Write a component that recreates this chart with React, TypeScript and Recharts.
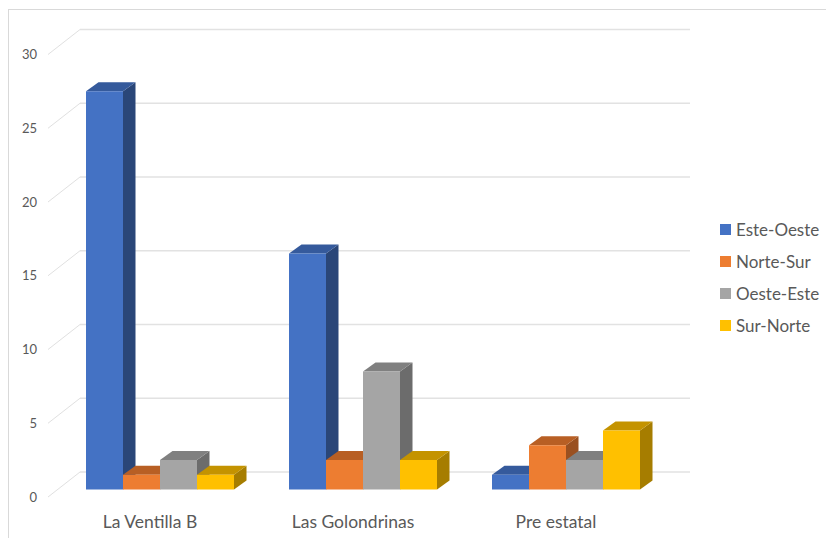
import { BarChart, Bar, XAxis, YAxis, CartesianGrid, Legend } from 'recharts';

const categories = ['La Ventilla B', 'Las Golondrinas', 'Pre estatal'];
const esteOeste = [27, 16, 1];
const norteSur = [1, 2, 3];
const oesteEste = [2, 8, 2];
const surNorte = [1, 2, 4];

const data = categories.map((name, i) => ({
  name,
  'Este-Oeste': esteOeste[i],
  'Norte-Sur': norteSur[i],
  'Oeste-Este': oesteEste[i],
  'Sur-Norte': surNorte[i],
}));

const series = [
  { key: 'Este-Oeste', fill: '#4472C4', top: '#355A9C', side: '#2A4678' },
  { key: 'Norte-Sur', fill: '#ED7D31', top: '#B85F24', side: '#9A5020' },
  { key: 'Oeste-Este', fill: '#A5A5A5', top: '#808080', side: '#6C6C6C' },
  { key: 'Sur-Norte', fill: '#FFC000', top: '#C49300', side: '#A67D00' },
];

const FONT = 'Lato, sans-serif';
const TEXT = '#595959';
const DX = 12.5;
const DY = 9;

const Box3D = ({ x, y, width, height, fill, top, side }: any) => {
  const r = x + width;
  const b = y + height;
  return (
    <g>
      <polygon points={`${r},${y} ${r + DX},${y - DY} ${r + DX},${b - DY} ${r},${b}`} fill={side} />
      <polygon points={`${x},${y} ${x + DX},${y - DY} ${r + DX},${y - DY} ${r},${y}`} fill={top} />
      <rect x={x} y={y} width={width} height={height} fill={fill} />
    </g>
  );
};

// floor runs back from the bar plane, so each grid line has a slanted part and a back part
const GridLine = ({ y1 }: any) => (
  <g key={y1}>
    <polyline points={`48,${y1 + 7.5} 80,${y1 - 17.5}`} fill="none" stroke="#e0e0e0" strokeWidth={1} />
    <line x1={80} y1={y1 - 17.5} x2={690} y2={y1 - 17.5} stroke="#e2e2e2" strokeWidth={1.4} />
  </g>
);

const YTick = ({ y, payload }: any) => (
  <text x={37} y={y + 7} textAnchor="end" dominantBaseline="central" fontFamily={FONT} fontSize={13} fill={TEXT}>
    {payload.value}
  </text>
);

const XTick = ({ x, y, payload }: any) => (
  <text x={x - 9.5} y={y + 24} textAnchor="middle" dominantBaseline="central" fontFamily={FONT} fontSize={17.5} fill={TEXT}>
    {payload.value}
  </text>
);

const LegendList = ({ payload }: any) => (
  <div>
    {payload.map((item: any) => (
      <div key={item.value} style={{ display: 'flex', alignItems: 'center', height: 32 }}>
        <div style={{ width: 11, height: 11, background: item.color, marginRight: 5 }} />
        <span style={{ fontFamily: FONT, fontSize: 17, color: TEXT, whiteSpace: 'nowrap' }}>{item.value}</span>
      </div>
    ))}
  </div>
);

export default function App() {
  return (
    <div style={{ position: 'absolute', left: 0, top: 0, width: 826, height: 538, overflow: 'hidden', background: '#fff' }}>
      <div style={{ position: 'absolute', left: 8, top: 9, width: 900, height: 600, border: '1px solid #d9d9d9' }} />
      <div style={{ position: 'absolute', left: 0, top: 0 }}>
        <BarChart
          width={826}
          height={538}
          data={data}
          margin={{ top: 47, right: 159, bottom: 8.5, left: 18 }}
          barCategoryGap={28}
          barGap={0}
        >
          <CartesianGrid vertical={false} horizontal={(p: any) => <GridLine key={p.key} y1={p.y1} />} />
          <XAxis dataKey="name" axisLine={false} tickLine={false} height={40} tick={<XTick />} interval={0} />
          <YAxis width={40} domain={[0, 30]} ticks={[0, 5, 10, 15, 20, 25, 30]} axisLine={false} tickLine={false} tick={<YTick />} />
          <Legend
            layout="vertical"
            align="center"
            verticalAlign="middle"
            content={<LegendList />}
            wrapperStyle={{ left: 720, top: 213, width: 106 }}
          />
          {series.map((s) => (
            <Bar
              key={s.key}
              dataKey={s.key}
              fill={s.fill}
              isAnimationActive={false}
              shape={(p: any) => <Box3D {...p} fill={s.fill} top={s.top} side={s.side} />}
            />
          ))}
        </BarChart>
      </div>
    </div>
  );
}
